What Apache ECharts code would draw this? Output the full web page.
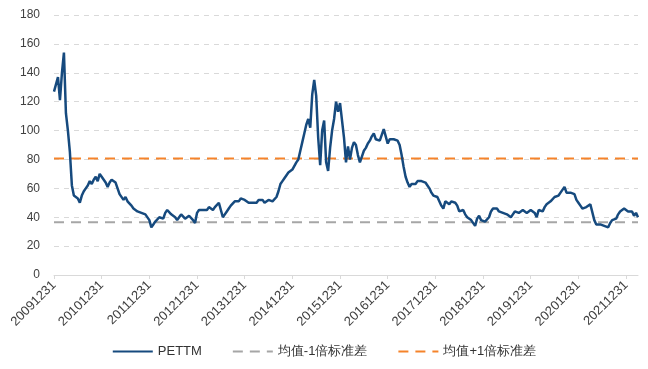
<!DOCTYPE html>
<html><head><meta charset="utf-8">
<script src="https://cdn.jsdelivr.net/npm/echarts@6/dist/echarts.min.js"></script>
<style>html,body{margin:0;padding:0;background:#fff}#c{width:648px;height:369px}</style>
</head><body><div id="c"></div>
<script>
// semi-monthly PE TTM readings, starting 20091231
var pe2010 = [128,137,121,140,154,112,100,85,62,55,56,53,50,55,58,60,62,65,63,66,68,65,70,68];
var pe2011 = [67,64,61,64,66,65,64,60,56,55,52,54,51,50,48,46,47,44,45,43,44,42,43,38];
var pe2012 = [33,35,37,36,40,41,39,43,45,44,42,41,40,38,40,42,41,39,40,41,42,38,36,43];
var pe2013 = [45,46,45,46,45,47,46,45,47,48,50,45,40,42,44,46,48,49,51,52,51,53,54,52];
var pe2014 = [51,50,49,50,51,50,52,51,52,50,51,52,51,51,52,54,58,63,65,67,66,71,70,73];
var pe2015 = [72,78,80,86,92,98,104,108,102,125,135,124,95,76,100,107,78,72,88,100,108,120,113,119];
var pe2016 = [118,95,78,89,80,88,92,90,83,78,82,86,88,91,93,96,98,94,95,93,97,101,96,91];
var pe2017 = [94,93,94,95,93,90,83,75,68,64,61,63,64,63,65,64,65,64,64,62,60,57,55,54];
var pe2018 = [54,53,48,46,51,50,49,51,52,50,48,44,43,45,42,40,40,38,37,34,39,41,38,38];
var pe2019 = [37,38,40,44,46,47,46,44,44,43,42,42,41,40,42,44,43,43,44,45,44,43,44,45];
var pe2020 = [46,43,40,45,46,44,47,49,50,51,52,54,53,55,57,58,61,57,58,57,58,56,52,50];
var pe2021 = [48,46,47,47,48,49,50,38,35,35,35,35,34,35,33,36,38,38,39,42,44,45,46,45];
var pe2022 = [44,45,44,41,43,40];
var peStart = 127;
var meanMinus1Std = 36.6;
var meanPlus1Std = 80.6;
var seriesNames = ['PETTM', '均值-1倍标准差', '均值+1倍标准差'];

var peValues = [peStart].concat(pe2010, pe2011, pe2012, pe2013, pe2014, pe2015, pe2016, pe2017, pe2018, pe2019, pe2020, pe2021, pe2022);

// category labels: semi-monthly dates
var monthEnds = ['0131','0228','0331','0430','0531','0630','0731','0831','0930','1031','1130','1231'];
var monthMids = ['0115','0215','0315','0415','0515','0615','0715','0815','0915','1015','1115','1215'];
var categories = ['20091231'];
for (var y = 2010; categories.length < peValues.length; y++) {
  for (var m = 0; m < 12 && categories.length < peValues.length; m++) {
    categories.push(y + monthMids[m]);
    if (categories.length < peValues.length) categories.push(y + monthEnds[m]);
  }
}
var lastCat = categories[categories.length - 1];

var chart = echarts.init(document.getElementById('c'));
chart.setOption({
  animation: false,
  textStyle: { fontFamily: 'Liberation Sans, Arial, sans-serif' },
  grid: { left: 54, right: 10, top: 15, bottom: 94 },
  legend: {
    bottom: 6, left: 'center',
    itemWidth: 40, itemHeight: 10, itemGap: 30,
    itemStyle: { opacity: 0 },
    textStyle: { fontSize: 13, color: '#333' },
    data: seriesNames
  },
  xAxis: {
    type: 'category',
    data: categories,
    boundaryGap: false,
    axisLine: { lineStyle: { color: '#d9d9d9' } },
    axisTick: { interval: 23, length: 4, lineStyle: { color: '#d9d9d9' } },
    axisLabel: { interval: 23, rotate: 45, fontSize: 13, color: '#404040', margin: 8 },
    splitLine: { show: false }
  },
  yAxis: {
    type: 'value', min: 0, max: 180, interval: 20,
    axisLine: { show: false }, axisTick: { show: false },
    axisLabel: { fontSize: 12, color: '#404040', margin: 14 },
    splitLine: { lineStyle: { color: '#d9d9d9', type: [5, 5] } }
  },
  series: [
    { name: seriesNames[0], type: 'line', data: peValues, showSymbol: false, symbol: 'none',
      lineStyle: { color: '#164a7e', width: 2.5 }, itemStyle: { color: '#164a7e' }, z: 3 },
    { name: seriesNames[1], type: 'line', data: [[categories[0], meanMinus1Std], [lastCat, meanMinus1Std]],
      showSymbol: false, symbol: 'none',
      lineStyle: { color: '#a6a6a6', width: 2, type: [10, 7] }, itemStyle: { color: '#a6a6a6' }, z: 2 },
    { name: seriesNames[2], type: 'line', data: [[categories[0], meanPlus1Std], [lastCat, meanPlus1Std]],
      showSymbol: false, symbol: 'none',
      lineStyle: { color: '#f5832a', width: 2, type: [10, 7] }, itemStyle: { color: '#f5832a' }, z: 2 }
  ]
});
</script></body></html>
